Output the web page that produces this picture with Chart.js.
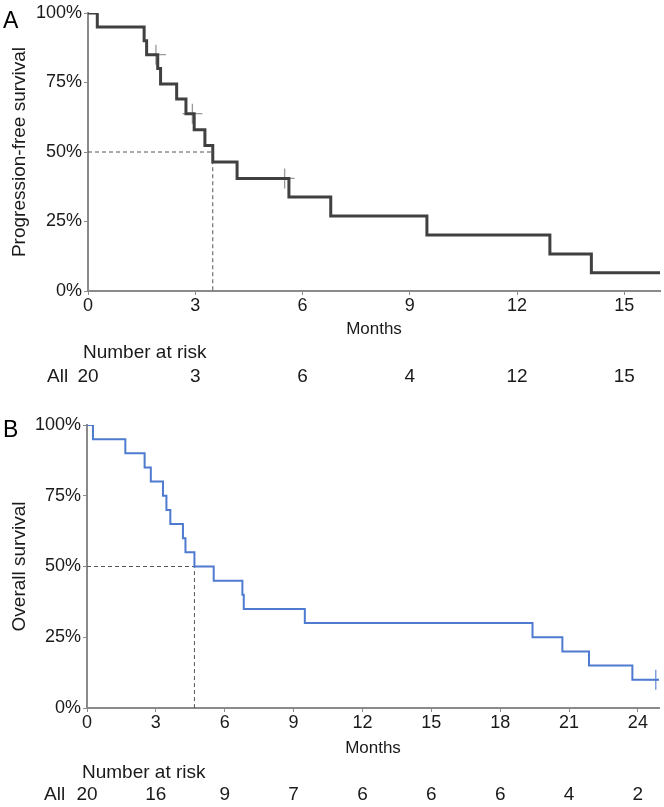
<!DOCTYPE html>
<html>
<head>
<meta charset="utf-8">
<script src="https://cdn.jsdelivr.net/npm/chart.js@4"></script>
<style>
    body { margin: 0; background: #fff; }
    canvas { display: block; }
</style>
</head>
<body onload="startUp()">
<canvas id="chart-a" width="664" height="390"></canvas>
<canvas id="chart-b" width="664" height="417"></canvas>
<script>
// Panel A - progression-free survival
var pfsTime = [0, 0.26, 1.57, 1.64, 1.95, 2.03, 2.48, 2.74, 2.97, 3.27, 3.49, 4.17, 5.62, 6.79, 9.48, 12.92, 14.08, 16];
var pfsSurv = [100, 95, 90, 85, 80, 74.5, 69.1, 63.8, 58, 52.3, 46.4, 40.5, 33.8, 27, 20.1, 13.3, 6.6, 6.6];
var pfsCensorTime = [1.9, 2.92, 5.5];
var pfsCensorSurv = [85, 63.8, 40.5];
var pfsMedian = 3.49;
var pfsTicks = [0, 3, 6, 9, 12, 15];
var pfsRisk = ["20", "3", "6", "4", "12", "15"];

// Panel B - overall survival
var osTime = [0, 0.26, 1.67, 2.51, 2.78, 3.31, 3.46, 3.63, 4.18, 4.29, 4.68, 5.52, 6.77, 6.83, 9.49, 19.41, 20.71, 21.87, 23.76, 24.92];
var osSurv = [100, 95, 90, 85, 80, 75, 70, 65, 60, 55, 50, 45, 40, 35, 30, 25, 20, 15, 10, 10];
var osCensorTime = [24.78];
var osCensorSurv = [10];
var osMedian = 4.68;
var osTicks = [0, 3, 6, 9, 12, 15, 18, 21, 24];
var osRisk = ["20", "16", "9", "7", "6", "6", "6", "4", "2"];

var yTicks = [0, 25, 50, 75, 100];

var fontName = "'Liberation Sans', Arial, sans-serif";
var textColor = "#1a1a1a";
var axisColor = "#8a8a8a";

function toPoints(xs, ys) {
    var pts = [];
    for (var i = 0; i < xs.length; i++) {
        pts.push({ x: xs[i], y: ys[i] });
    }
    return pts;
}

// panel letter + number at risk table
var riskPlugin = {
    id: "riskTable",
    afterDraw: function (chart) {
        var o = chart.options.plugins.riskTable;
        var ctx = chart.ctx;
        var xs = chart.scales.x;
        ctx.save();
        ctx.fillStyle = "#000";
        ctx.textBaseline = "alphabetic";
        ctx.textAlign = "left";
        ctx.font = "23px " + fontName;
        ctx.fillText(o.letter, 3, o.letterY);
        ctx.fillStyle = textColor;
        ctx.font = "19px " + fontName;
        ctx.fillText("Number at risk", o.headX, o.headY);
        ctx.fillText("All", o.allX, o.rowY);
        ctx.textAlign = "center";
        for (var i = 0; i < o.ticks.length; i++) {
            ctx.fillText(o.values[i], xs.getPixelForValue(o.ticks[i]), o.rowY);
        }
        ctx.restore();
    }
};

function makeChart(id, cfg) {
    var ctx = document.getElementById(id);
    return new Chart(ctx, {
        type: "line",
        data: {
            datasets: [{
                data: toPoints([0, cfg.median, cfg.median], [50, 50, 0]),
                borderColor: "#555",
                borderWidth: 1,
                borderDash: [4, 3],
                pointRadius: 0,
                order: 3
            }, {
                type: "scatter",
                data: toPoints(cfg.censorX, cfg.censorY),
                pointStyle: "cross",
                pointRadius: 10,
                borderColor: cfg.censorColor,
                borderWidth: 1.3,
                order: 2
            }, {
                data: toPoints(cfg.time, cfg.surv),
                stepped: "before",
                borderColor: cfg.color,
                borderWidth: cfg.width,
                pointRadius: 0,
                order: 1
            }]
        },
        options: {
            responsive: false,
            animation: false,
            layout: { padding: cfg.padding, autoPadding: false },
            plugins: {
                legend: { display: false },
                tooltip: { enabled: false },
                riskTable: cfg.table
            },
            scales: {
                x: {
                    type: "linear",
                    min: 0,
                    max: cfg.xMax,
                    afterBuildTicks: function (scale) {
                        scale.ticks = cfg.xTicks.map(function (v) { return { value: v }; });
                    },
                    afterFit: function (scale) {
                        scale.height = cfg.xHeight;
                        scale.paddingLeft = 0;
                        scale.paddingRight = 0;
                    },
                    grid: { drawOnChartArea: false, color: axisColor, tickLength: 4 },
                    border: { color: axisColor, width: 2 },
                    ticks: { color: textColor, font: { family: fontName, size: 18 }, padding: 0, maxRotation: 0 },
                    title: { display: true, text: "Months", color: textColor, font: { family: fontName, size: 17 }, padding: { top: 0, bottom: 1 } }
                },
                y: {
                    min: 0,
                    max: 100,
                    afterBuildTicks: function (scale) {
                        scale.ticks = yTicks.map(function (v) { return { value: v }; });
                    },
                    afterFit: function (scale) {
                        scale.width = cfg.yWidth;
                        scale.paddingTop = 0;
                        scale.paddingBottom = 0;
                    },
                    grid: { drawOnChartArea: false, color: axisColor, tickLength: 4 },
                    border: { color: axisColor, width: 2 },
                    ticks: {
                        color: textColor,
                        font: { family: fontName, size: 18 },
                        padding: 2,
                        callback: function (v) { return v + "%"; }
                    },
                    title: { display: true, text: cfg.yTitle, color: textColor, font: { family: fontName, size: 19 }, padding: { top: 8, bottom: 0 } }
                }
            }
        },
        plugins: [riskPlugin]
    });
}

function startUp() {
    makeChart("chart-a", {
        time: pfsTime, surv: pfsSurv,
        censorX: pfsCensorTime, censorY: pfsCensorSurv, censorColor: "#9a9a9a",
        median: pfsMedian, color: "#404040", width: 3,
        xMax: 16, xTicks: pfsTicks, xHeight: 50, yWidth: 88,
        yTitle: "Progression-free survival",
        padding: { top: 13, right: 4, bottom: 49, left: 0 },
        table: { letter: "A", letterY: 28, headX: 83, headY: 358, allX: 47, rowY: 382, ticks: pfsTicks, values: pfsRisk }
    });
    makeChart("chart-b", {
        time: osTime, surv: osSurv,
        censorX: osCensorTime, censorY: osCensorSurv, censorColor: "#6f93d8",
        median: osMedian, color: "#4e7bcf", width: 2,
        xMax: 24.92, xTicks: osTicks, xHeight: 52, yWidth: 87,
        yTitle: "Overall survival",
        padding: { top: 35, right: 5, bottom: 47, left: 0 },
        table: { letter: "B", letterY: 47, headX: 82, headY: 388, allX: 44, rowY: 410, ticks: osTicks, values: osRisk }
    });
}
</script>
</body>
</html>
